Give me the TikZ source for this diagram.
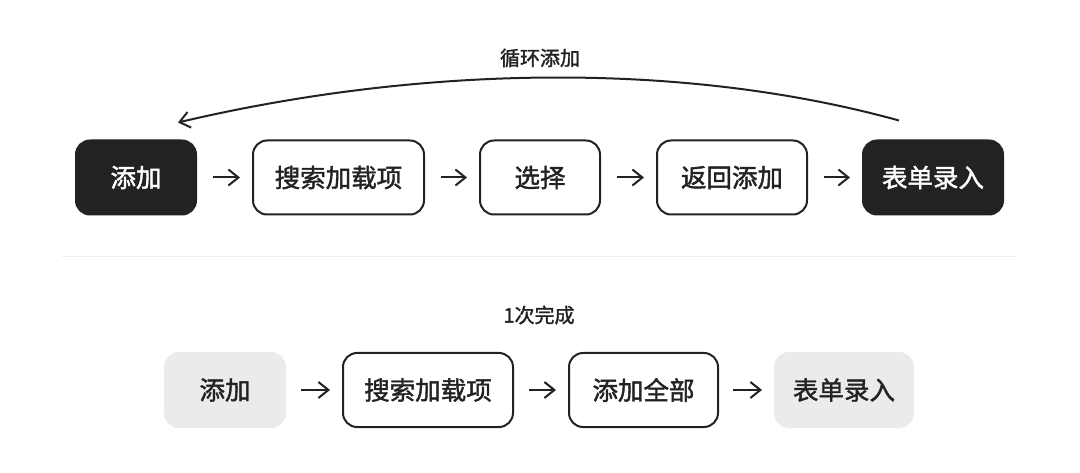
\documentclass[tikz,border=0pt]{standalone}
\usepackage{fontspec}
\newfontfamily\cjk{Noto Sans CJK SC}[FakeBold=1.6]
\usetikzlibrary{arrows.meta}
\definecolor{ink}{HTML}{222222}
\definecolor{softgray}{HTML}{EBEBEB}
\definecolor{sepline}{HTML}{EEEEEE}
\tikzset{
  x=1pt, y=-1pt,
  box/.style={rounded corners=14pt, minimum height=74pt, inner sep=0pt, font=\cjk\fontsize{25.5}{25.5}\selectfont, text=ink, line width=2pt},
  darkbox/.style={box, fill=ink, draw=ink, text=white},
  whitebox/.style={box, draw=ink, fill=white},
  graybox/.style={box, fill=softgray, draw=softgray},
  flow/.style={draw=ink, line width=2pt, -{Straight Barb[length=10pt,width=16pt,line width=2pt]}},
  lbl/.style={font=\cjk\fontsize{20}{20}\selectfont, text=ink, inner sep=0pt}
}
\begin{document}
\begin{tikzpicture}
\useasboundingbox (0,0) rectangle (1080,473);
% top row
\node[darkbox, minimum width=120pt] (a1) at (136,177.5) {添加};
\node[whitebox, minimum width=171pt] (a2) at (338.5,177.5) {搜索加载项};
\node[whitebox, minimum width=120pt] (a3) at (540,177.5) {选择};
\node[whitebox, minimum width=150pt] (a4) at (732,177.5) {返回添加};
\node[darkbox, minimum width=140pt] (a5) at (933,177.5) {表单录入};
\draw[flow] ([xshift=16pt]a1.east) -- ([xshift=-12pt]a2.west);
\draw[flow] ([xshift=16pt]a2.east) -- ([xshift=-12pt]a3.west);
\draw[flow] ([xshift=16pt]a3.east) -- ([xshift=-12pt]a4.west);
\draw[flow] ([xshift=16pt]a4.east) -- ([xshift=-12pt]a5.west);
% loop curve
\coordinate (ls) at ([xshift=-34pt,yshift=19pt]a5.north);
\coordinate (le) at ([xshift=42pt,yshift=17pt]a1.north);
\draw[flow] (ls) .. controls (680,60) and (418,66) .. (le);
\node[lbl] (loop) at (540,58) {循环添加};
% separator
\coordinate (s1) at (62,257);
\coordinate (s2) at (1017,257);
\draw[sepline, line width=1pt] (s1) -- (s2);
% bottom row
\node[lbl] (once) at (539,315) {1次完成};
\node[graybox, minimum width=120pt] (b1) at (225,390) {添加};
\node[whitebox, minimum width=170pt] (b2) at (428,390) {搜索加载项};
\node[whitebox, minimum width=149pt] (b3) at (643.5,390) {添加全部};
\node[graybox, minimum width=138pt] (b4) at (844,390) {表单录入};
\draw[flow] ([xshift=15pt]b1.east) -- ([xshift=-12pt]b2.west);
\draw[flow] ([xshift=15pt]b2.east) -- ([xshift=-12pt]b3.west);
\draw[flow] ([xshift=14pt]b3.east) -- ([xshift=-12pt]b4.west);
\end{tikzpicture}
\end{document}
